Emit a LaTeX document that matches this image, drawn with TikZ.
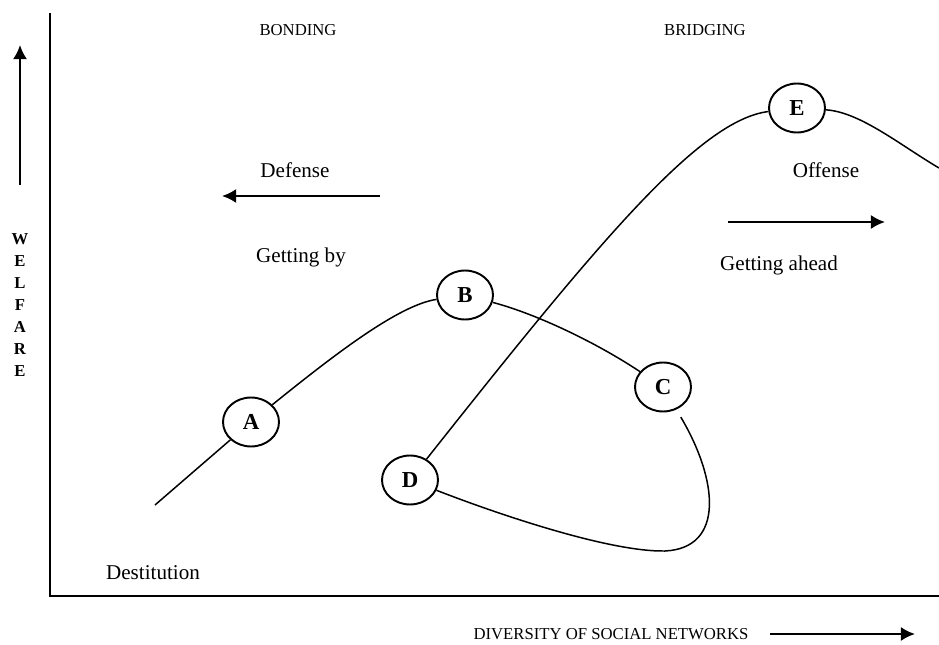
\documentclass[tikz,border=0pt]{standalone}
\usepackage{fontspec}
\setmainfont{Liberation Serif}
\usetikzlibrary{arrows.meta,shapes.geometric}
\tikzset{stage/.style={ellipse,draw,line width=1.1pt,minimum width=1.12cm,minimum height=0.98cm,inner sep=0pt,font=\fontsize{13}{15}\selectfont\bfseries},curve/.style={line width=0.85pt},axis/.style={line width=1.4pt},arrowout/.style={->,>={Latex[length=8pt,width=8pt]},line width=1.3pt},caps/.style={font=\fontsize{9.5}{11}\selectfont},word/.style={font=\fontsize{12}{14}\selectfont}}

\begin{document}
\begin{tikzpicture}[x=0.02cm,y=-0.02cm]
\useasboundingbox (0,0) rectangle (939,645);

%axes
\coordinate (top) at (50,13);
\coordinate (origin) at (50,596);
\coordinate (right) at (939,596);
\draw[axis] (top) -- (origin) -- (right);

%welfare
\coordinate (wtail) at (20,185);
\coordinate (whead) at (20,45);
\draw[arrowout] (wtail) -- (whead);
\foreach \l [count=\i] in {W,E,L,F,A,R,E}
  \node (w\i) at (20,217+22*\i)[caps,font=\fontsize{9.5}{11}\selectfont\bfseries]{\l};

%diversity
\node (div) at (611,634)[caps]{DIVERSITY OF SOCIAL NETWORKS};
\coordinate (xtail) at (770,634);
\coordinate (xhead) at (915,634);
\draw[arrowout] (xtail) -- (xhead);

%bonding
\node (bond) at (298,30)[caps]{BONDING};
\node (def) at (295,170)[word]{Defense};
\node (by) at (301,257)[word]{Getting by};
\coordinate (dtail) at (380,196);
\coordinate (dhead) at (222,196);
\draw[arrowout] (dtail) -- (dhead);

%bridging
\node (bridge) at (705,30)[caps]{BRIDGING};
\node (off) at (826,170)[word]{Offense};
\node (ahead) at (779,265)[word]{Getting ahead};
\coordinate (otail) at (728,222);
\coordinate (ohead) at (885,222);
\draw[arrowout] (otail) -- (ohead);

%stages
\node (A) at (251,422)[stage]{A};
\node (B) at (465,295)[stage]{B};
\node (C) at (663,387)[stage]{C};
\node (D) at (410,480)[stage]{D};
\node (E) at (797,108)[stage]{E};
\node (dest) at (153,573)[word]{Destitution};

%curves
\coordinate (low) at (155,505);
\coordinate (loop) at (665,551);
\coordinate (fall) at (939,168);
\draw[curve] (low) -- (A);
\draw[curve] (A) .. controls (340,350) and (400,305) .. (B);
\draw[curve] (B) .. controls (540,315) and (600,345) .. (C);
\draw[curve,shorten <=5pt] (C) .. controls (718,480) and (725,548) .. (loop);
\draw[curve] (loop) .. controls (610,552) and (500,515) .. (D);
\draw[curve] (D) .. controls (600,240) and (700,120) .. (E);
\draw[curve] (E) .. controls (860,112) and (900,145) .. (fall);

\end{tikzpicture}
\end{document}
